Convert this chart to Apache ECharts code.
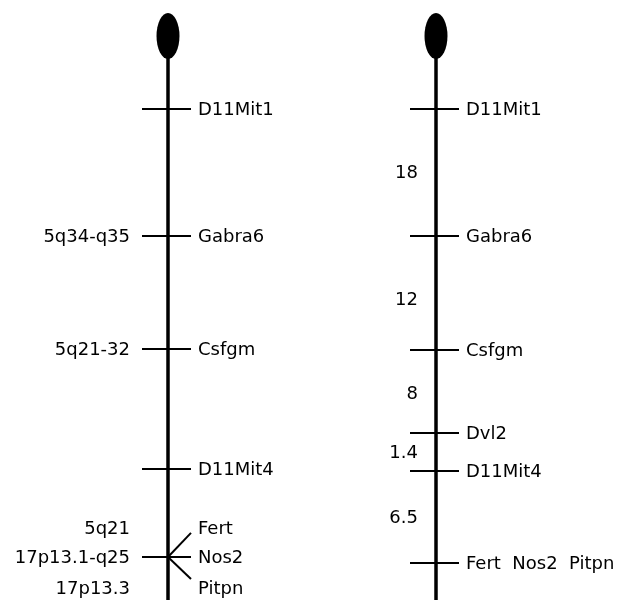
<!DOCTYPE html>
<html>
<head>
<meta charset="utf-8">
<script src="https://cdn.jsdelivr.net/npm/echarts@6/dist/echarts.min.js"></script>
<style>
  html, body { margin: 0; background: #fff; }
  #chart { width: 621px; height: 600px; }
</style>
</head>
<body>
<div id="chart"></div>
<script>
// marker positions along each map, read top-down off the figure (drawing units)
const leftMarkers = ['D11Mit1', 'Gabra6', 'Csfgm', 'D11Mit4', 'Nos2'];
const leftPos = [109, 236, 349, 469, 557];
const humanLoci = ['', '5q34-q35', '5q21-32', '', '17p13.1-q25'];

const branchMarkers = ['Fert', 'Pitpn'];
const branchPos = [528, 588];
const branchLoci = ['5q21', '17p13.3'];

const rightMarkers = ['D11Mit1', 'Gabra6', 'Csfgm', 'Dvl2', 'D11Mit4', 'Fert  Nos2  Pitpn'];
const rightPos = [109, 236, 350, 433, 471, 563];

const distances = ['18', '12', '8', '1.4', '6.5'];
const distPos = [173, 300, 394, 453, 518];

const chromX = [168, 436];
const centromereY = 36;
const chromTop = 58;
const chromEnd = 600;

const FONT = 'DejaVu Sans';
const FS = 18;

const chart = echarts.init(document.getElementById('chart'));

const txt = (x, y, text, align) => ({
  type: 'text',
  style: { x, y, text, align, verticalAlign: 'middle', fill: '#000', font: FS + 'px ' + FONT }
});
const seg = (x1, y1, x2, y2, w) => ({
  type: 'line',
  shape: { x1, y1, x2, y2 },
  style: { stroke: '#000', lineWidth: w || 2 }
});

const tickSeries = (x, pos, names, loci) => ({
  type: 'custom',
  silent: true,
  data: pos.map(p => [x, p]),
  renderItem: (params, api) => {
    const i = params.dataIndex;
    const c = api.coord([api.value(0), api.value(1)]);
    const children = [seg(c[0] - 26, c[1], c[0] + 23, c[1]), txt(c[0] + 30, c[1] + 1, names[i], 'left')];
    if (loci && loci[i]) children.push(txt(c[0] - 38, c[1] + 1, loci[i], 'right'));
    return { type: 'group', children };
  }
});

chart.setOption({
  animation: false,
  grid: { left: 0, right: 0, top: 0, bottom: 0 },
  xAxis: { type: 'value', min: 0, max: 621, show: false },
  yAxis: { type: 'value', min: 0, max: 600, inverse: true, show: false },
  series: [
    // chromosome bodies
    ...chromX.map(x => ({
      type: 'line',
      silent: true,
      symbol: 'none',
      lineStyle: { color: '#000', width: 3.5, opacity: 1 },
      data: [[x, chromTop], [x, chromEnd]]
    })),
    // centromeres
    {
      type: 'scatter',
      silent: true,
      symbol: 'circle',
      symbolSize: [23, 46],
      itemStyle: { color: '#000', opacity: 1 },
      data: chromX.map(x => [x, centromereY])
    },
    tickSeries(chromX[0], leftPos, leftMarkers, humanLoci),
    tickSeries(chromX[1], rightPos, rightMarkers, null),
    // Fert / Pitpn branches off Nos2 on the left map
    {
      type: 'custom',
      silent: true,
      data: branchPos.map(p => [chromX[0], p]),
      renderItem: (params, api) => {
        const i = params.dataIndex;
        const c = api.coord([api.value(0), api.value(1)]);
        const hub = api.coord([chromX[0], leftPos[4]]);
        const ey = hub[1] + (c[1] - hub[1]) * (i === 0 ? 0.83 : 0.71);
        return {
          type: 'group',
          children: [
            seg(hub[0], hub[1], hub[0] + 23, ey),
            txt(c[0] + 30, c[1] + 1, branchMarkers[i], 'left'),
            txt(c[0] - 38, c[1] + 1, branchLoci[i], 'right')
          ]
        };
      }
    },
    // intervals (cM) on the right map
    {
      type: 'custom',
      silent: true,
      data: distPos.map(p => [chromX[1], p]),
      renderItem: (params, api) => {
        const c = api.coord([api.value(0), api.value(1)]);
        return txt(c[0] - 18, c[1], distances[params.dataIndex], 'right');
      }
    }
  ]
});
</script>
</body>
</html>
